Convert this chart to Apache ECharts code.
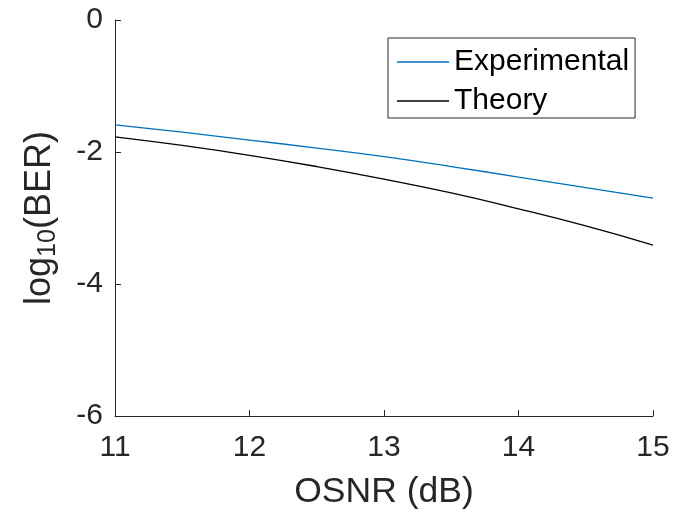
<!DOCTYPE html>
<html>
<head>
<meta charset="utf-8">
<script src="https://cdn.jsdelivr.net/npm/echarts@6/dist/echarts.min.js"></script>
<style>
html,body{margin:0;padding:0;background:#fff;}
#c{width:674px;height:515px;}
</style>
</head>
<body>
<div id="c"></div>
<script>
const osnr = [11, 11.5, 12, 12.5, 13, 13.5, 14, 14.5, 15];
const experimental = [-1.59, -1.70, -1.82, -1.94, -2.07, -2.22, -2.38, -2.54, -2.70];
const theory = [-1.77, -1.90, -2.05, -2.22, -2.41, -2.62, -2.86, -3.12, -3.41];
const xTicks = [11, 12, 13, 14, 15];
const yTicks = [-6, -4, -2, 0];

const font = 'Liberation Sans, Arial, Helvetica, sans-serif';
const axisColor = '#262626';
const chart = echarts.init(document.getElementById('c'), null, {renderer: 'canvas'});
const pairs = (xs, ys) => xs.map((x, i) => [x, ys[i]]);

chart.setOption({
  animation: false,
  backgroundColor: '#ffffff',
  textStyle: {fontFamily: font},
  grid: {left: 115, right: 21, top: 20, bottom: 99, containLabel: false},
  legend: {
    orient: 'vertical',
    left: 388,
    top: 38,
    padding: [9, 6, 2, 9],
    itemGap: 9,
    itemWidth: 52,
    itemHeight: 1.4,
    icon: 'rect',
    backgroundColor: '#ffffff',
    borderColor: axisColor,
    borderWidth: 1,
    borderRadius: 0,
    textStyle: {fontSize: 30, color: '#000', fontFamily: font, lineHeight: 30},
    data: ['Experimental', 'Theory']
  },
  xAxis: {
    type: 'value',
    min: 11, max: 15, interval: 1,
    name: 'OSNR (dB)',
    nameLocation: 'middle',
    nameGap: 58,
    nameTextStyle: {fontSize: 35.5, color: axisColor, fontFamily: font},
    axisLine: {show: true, onZero: false, lineStyle: {color: axisColor, width: 1}},
    axisTick: {show: true, inside: true, length: 6, lineStyle: {color: axisColor}},
    axisLabel: {fontSize: 30, color: axisColor, margin: 17, fontFamily: font,
      formatter: v => xTicks.includes(v) ? String(v) : ''},
    splitLine: {show: false}
  },
  yAxis: {
    type: 'value',
    min: -6, max: 0, interval: 2,
    name: '{a|log}{b|10}{a|(BER)}',
    nameLocation: 'middle',
    nameGap: 55,
    nameTextStyle: {
      color: axisColor,
      fontFamily: font,
      rich: {
        a: {fontSize: 36, color: axisColor, fontFamily: font, lineHeight: 40},
        b: {fontSize: 25, color: axisColor, fontFamily: font, lineHeight: 40, padding: [16, 0, 0, 0]}
      }
    },
    axisLine: {show: true, onZero: false, lineStyle: {color: axisColor, width: 1}},
    axisTick: {show: true, inside: true, length: 6, lineStyle: {color: axisColor}},
    axisLabel: {fontSize: 30, color: axisColor, margin: 12, fontFamily: font,
      formatter: v => yTicks.includes(v) ? String(v) : ''},
    splitLine: {show: false}
  },
  series: [
    {
      name: 'Experimental',
      type: 'line',
      data: pairs(osnr, experimental),
      smooth: true,
      symbol: 'none',
      lineStyle: {color: '#0072BD', width: 1.3},
      itemStyle: {color: '#0072BD'}
    },
    {
      name: 'Theory',
      type: 'line',
      data: pairs(osnr, theory),
      smooth: true,
      symbol: 'none',
      lineStyle: {color: '#000000', width: 1.3},
      itemStyle: {color: '#000000'}
    }
  ]
});
</script>
</body>
</html>
